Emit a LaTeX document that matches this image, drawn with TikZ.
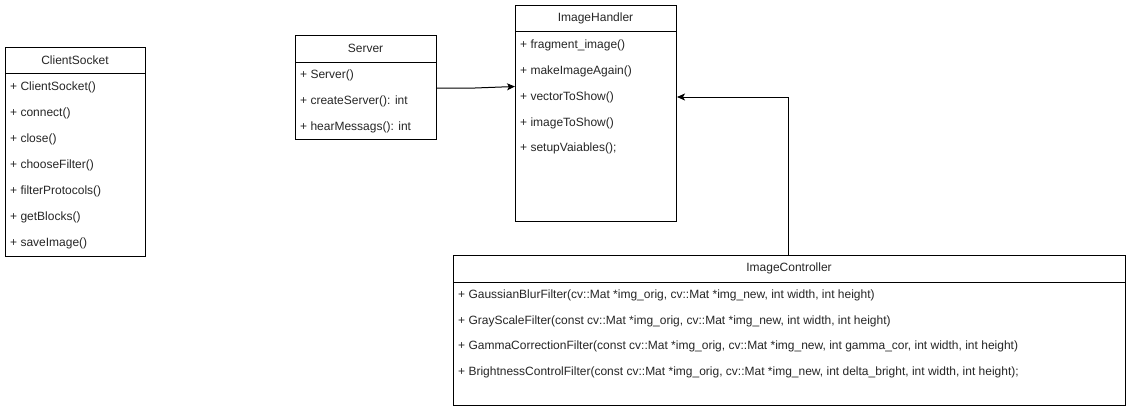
\documentclass[tikz,border=0pt]{standalone}
\usepackage{fontspec}
\setmainfont{Liberation Sans}
\usetikzlibrary{arrows.meta}
\begin{document}
\begin{tikzpicture}[x=1pt,y=-1pt,
  classbox/.style={draw=black, line width=1pt, fill=white, anchor=north west, inner sep=0pt},
  title/.style={font=\fontsize{12}{14}\selectfont, inner sep=0pt, text=black!85},
  member/.style={font=\fontsize{12}{14}\selectfont, anchor=west, inner sep=0pt, text=black!85},
  sep/.style={draw=black, line width=1pt},
  conn/.style={draw=black, line width=1pt, -{Stealth[length=8pt,width=7pt,inset=2pt]}}]
\useasboundingbox (0,0) rectangle (1131,412);
\fill[white] (0,0) rectangle (1131,412);

% ClientSocket
\node[classbox, minimum width=140pt, minimum height=209pt] (cs) at (5,47) {};
\draw[sep] (5,73) -- (145,73);
\node[title] (cst) at (75,60) {ClientSocket};
\node[member] (cs1) at (10,87) {+ ClientSocket()};
\node[member] (cs2) at (10,113) {+ connect()};
\node[member] (cs3) at (10,139) {+ close()};
\node[member] (cs4) at (10,165) {+ chooseFilter()};
\node[member] (cs5) at (10,191) {+ filterProtocols()};
\node[member] (cs6) at (10,217) {+ getBlocks()};
\node[member] (cs7) at (10,243) {+ saveImage()};

% Server
\node[classbox, minimum width=141pt, minimum height=104pt] (srv) at (295,35) {};
\draw[sep] (295,62) -- (436,62);
\node[title] (srvt) at (365.5,48.5) {Server};
\node[member] (srv1) at (300,75) {+ Server()};
\node[member] (srv2) at (300,101) {+ createServer(): int};
\node[member] (srv3) at (300,127) {+ hearMessags(): int};

% ImageHandler
\node[classbox, minimum width=161pt, minimum height=216pt] (ih) at (515,5) {};
\draw[sep] (515,32) -- (676,32);
\node[title] (iht) at (595.5,18.5) {ImageHandler};
\node[member] (ih1) at (520,45) {+ fragment\_image()};
\node[member] (ih2) at (520,71) {+ makeImageAgain()};
\node[member] (ih3) at (520,97) {+ vectorToShow()};
\node[member] (ih4) at (520,123) {+ imageToShow()};
\node[member] (ih5) at (520,148) {+ setupVaiables();};

% ImageController
\node[classbox, minimum width=672pt, minimum height=150pt] (ic) at (453,255) {};
\draw[sep] (453,282) -- (1125,282);
\node[title] (ict) at (789,268.5) {ImageController};
\node[member] (ic1) at (458,295) {+ GaussianBlurFilter(cv::Mat *img\_orig, cv::Mat *img\_new, int width, int height)};
\node[member] (ic2) at (458,321) {+ GrayScaleFilter(const cv::Mat *img\_orig, cv::Mat *img\_new, int width, int height)};
\node[member] (ic3) at (458,346) {+ GammaCorrectionFilter(const cv::Mat *img\_orig, cv::Mat *img\_new, int gamma\_cor, int width, int height)};
\node[member] (ic4) at (458,372) {+ BrightnessControlFilter(const cv::Mat *img\_orig, cv::Mat *img\_new, int delta\_bright, int width, int height);};

% connectors
\coordinate (k1) at (475,88);
\draw[conn] (srv.east |- k1) -- (k1) -- (ih.west |- 0,86.5);
\coordinate (k2) at (788,97);
\draw[conn] (ic.north -| k2) -- (k2) -- (ih.east |- k2);
\end{tikzpicture}
\end{document}
